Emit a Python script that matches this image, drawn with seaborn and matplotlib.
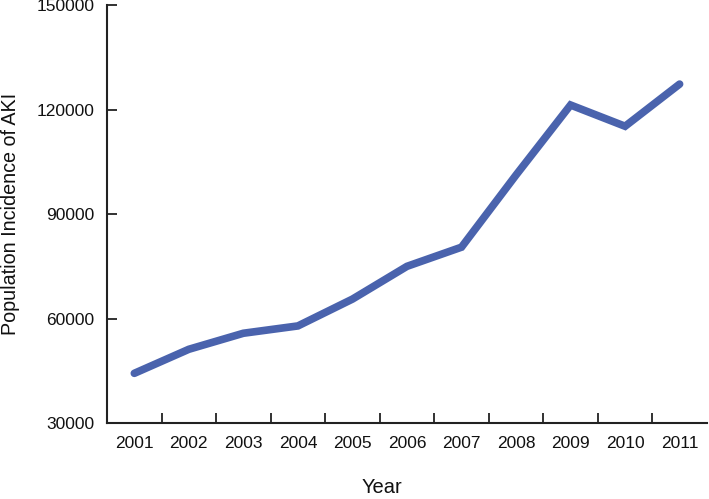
import matplotlib.pyplot as plt
import numpy as np
import pandas as pd
import seaborn as sns

years = ['2001', '2002', '2003', '2004', '2005', '2006', '2007', '2008', '2009', '2010', '2011']
incidence = [44300, 51200, 55800, 57900, 65600, 75000, 80500, 101200, 121300, 115200, 127300]
y_ticks = [30000, 60000, 90000, 120000, 150000]

dados = pd.DataFrame({'Year': years, 'Incidence': incidence})

sns.set_style('white')
plt.rcParams['font.family'] = ['Liberation Sans', 'DejaVu Sans']

fig = plt.figure(figsize=(7.09, 4.99), dpi=100)
ax = fig.add_axes([0.151, 0.152, 0.846, 0.838])

sns.lineplot(data=dados, x='Year', y='Incidence', color='#4a63ad', linewidth=5.5,
             solid_capstyle='round', solid_joinstyle='miter', ax=ax, sort=False)

ax.set_xlim(-0.5, len(years) - 0.5)
ax.set_ylim(y_ticks[0], y_ticks[-1])

# ticks nas fronteiras entre as categorias, rotulos no centro
ax.set_xticks(np.arange(len(years) - 1) + 0.5)
ax.set_xticklabels([])
ax.set_xticks(np.arange(len(years)), minor=True)
ax.set_xticklabels(years, minor=True, fontsize=12.5, color='#111111')
ax.tick_params(axis='x', which='major', bottom=True, direction='in', length=7, width=1.3, color='#222222')
ax.tick_params(axis='x', which='minor', bottom=True, length=0, pad=9)

ax.set_yticks(y_ticks)
ax.set_yticklabels([str(v) for v in y_ticks], fontsize=12.5, color='#111111')
ax.tick_params(axis='y', left=True, direction='in', length=7, width=1.3, color='#222222', pad=9)

for lado in ['top', 'right']:
    ax.spines[lado].set_visible(False)
for lado in ['left', 'bottom']:
    ax.spines[lado].set_color('#222222')
    ax.spines[lado].set_linewidth(1.5)

ax.set_xlabel('Year', fontsize=14.5, color='#111111')
ax.xaxis.set_label_coords(0.458, -0.132)
ax.set_ylabel('Population Incidence of AKI', fontsize=14.2, color='#111111', labelpad=12)

fig.savefig('out.png', dpi=100)
